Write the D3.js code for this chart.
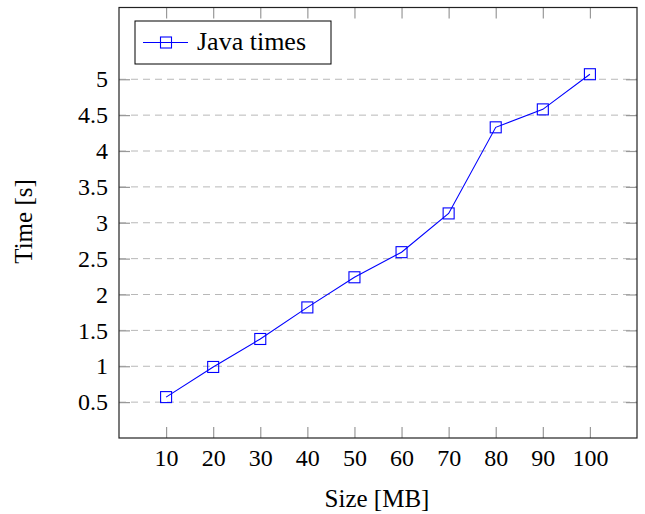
<!DOCTYPE html>
<html>
<head>
<meta charset="utf-8">
<script src="https://cdn.jsdelivr.net/npm/d3@7"></script>
<style>
  body { margin: 0; background: #fff; }
</style>
</head>
<body>
<script>
let w = 645;
let h = 514;
let sizes = [10, 20, 30, 40, 50, 60, 70, 80, 90, 100];
let javaTimes = [0.57, 0.99, 1.38, 1.82, 2.24, 2.59, 3.13, 4.33, 4.58, 5.07];
let xTicks = [10, 20, 30, 40, 50, 60, 70, 80, 90, 100];
let yTicks = [0.5, 1, 1.5, 2, 2.5, 3, 3.5, 4, 4.5, 5];
let seriesName = "Java times";
let serif = "Liberation Serif";

// plot box edges
let pL = 119, pR = 637, pT = 7.5, pB = 438;

let x = d3.scaleLinear().domain([0, 110]).range([pL, pR]);
let y = d3.scaleLinear().domain([0, 6]).range([pB, pT]);

let svg = d3.select("body")
            .append("svg")
            .attr("width", w)
            .attr("height", h);

// dashed grid on y
svg.append("g")
  .selectAll("line")
  .data(yTicks)
  .enter()
  .append("line")
    .attr("x1", pL)
    .attr("x2", pR)
    .attr("y1", d => y(d))
    .attr("y2", d => y(d))
    .attr("stroke", "#b8b8b8")
    .attr("stroke-dasharray", "7,5");

let tickLen = 11;
let fmt = d3.format("~g");
// inward ticks, bottom + top, left + right
let xa = svg.append("g").attr("transform", "translate(0," + pB + ")")
  .call(d3.axisBottom(x).tickValues(xTicks).tickFormat(fmt).tickSizeInner(-tickLen).tickSizeOuter(0).tickPadding(11));
let xt = svg.append("g").attr("transform", "translate(0," + pT + ")")
  .call(d3.axisTop(x).tickValues(xTicks).tickSizeInner(-tickLen).tickSizeOuter(0).tickFormat(""));
let ya = svg.append("g").attr("transform", "translate(" + pL + ",0)")
  .call(d3.axisLeft(y).tickValues(yTicks).tickFormat(fmt).tickSizeInner(-tickLen).tickSizeOuter(0).tickPadding(11));
let yr = svg.append("g").attr("transform", "translate(" + pR + ",0)")
  .call(d3.axisRight(y).tickValues(yTicks).tickSizeInner(-tickLen).tickSizeOuter(0).tickFormat(""));

[xa, xt, ya, yr].forEach(g => {
  g.select(".domain").remove();
  g.attr("font-family", serif).attr("font-size", 24);
  g.selectAll(".tick line").attr("stroke", "#999").attr("stroke-width", 1.2);
  g.selectAll(".tick text").attr("font-family", serif).attr("font-size", 24).attr("fill", "#000");
});

// frame
svg.append("rect")
  .attr("x", pL).attr("y", pT)
  .attr("width", pR - pL).attr("height", pB - pT)
  .attr("fill", "none").attr("stroke", "#222").attr("stroke-width", 1.2);

let line = d3.line().x((d, i) => x(sizes[i])).y(d => y(d));

svg.append("path")
  .datum(javaTimes)
  .attr("d", line)
  .attr("fill", "none")
  .attr("stroke", "#0000ff")
  .attr("stroke-width", 1.1);

let ms = 11;
svg.selectAll("rect.mark")
  .data(javaTimes)
  .enter()
  .append("rect")
    .attr("class", "mark")
    .attr("x", (d, i) => x(sizes[i]) - ms / 2)
    .attr("y", d => y(d) - ms / 2)
    .attr("width", ms)
    .attr("height", ms)
    .attr("fill", "none")
    .attr("stroke", "#0000ff")
    .attr("stroke-width", 1.1);

// legend
let lg = svg.append("g");
lg.append("rect")
  .attr("x", 135).attr("y", 21).attr("width", 196).attr("height", 43)
  .attr("fill", "#fff").attr("stroke", "#000").attr("stroke-width", 1);
lg.append("line")
  .attr("x1", 143).attr("x2", 188).attr("y1", 42.5).attr("y2", 42.5)
  .attr("stroke", "#0000ff").attr("stroke-width", 1.1);
lg.append("rect")
  .attr("x", 166 - ms / 2).attr("y", 42.5 - ms / 2).attr("width", ms).attr("height", ms)
  .attr("fill", "none").attr("stroke", "#0000ff").attr("stroke-width", 1.1);
lg.append("text")
  .attr("x", 197).attr("y", 50)
  .attr("font-family", serif)
  .attr("font-size", 26)
  .text(seriesName);

// axis labels
svg.append("text")
  .attr("x", 377).attr("y", 507)
  .attr("text-anchor", "middle")
  .attr("font-family", serif)
  .attr("font-size", 25)
  .text("Size [MB]");

svg.append("text")
  .attr("transform", "translate(32,221.5) rotate(-90)")
  .attr("text-anchor", "middle")
  .attr("font-family", serif)
  .attr("font-size", 25)
  .text("Time [s]");
</script>
</body>
</html>
